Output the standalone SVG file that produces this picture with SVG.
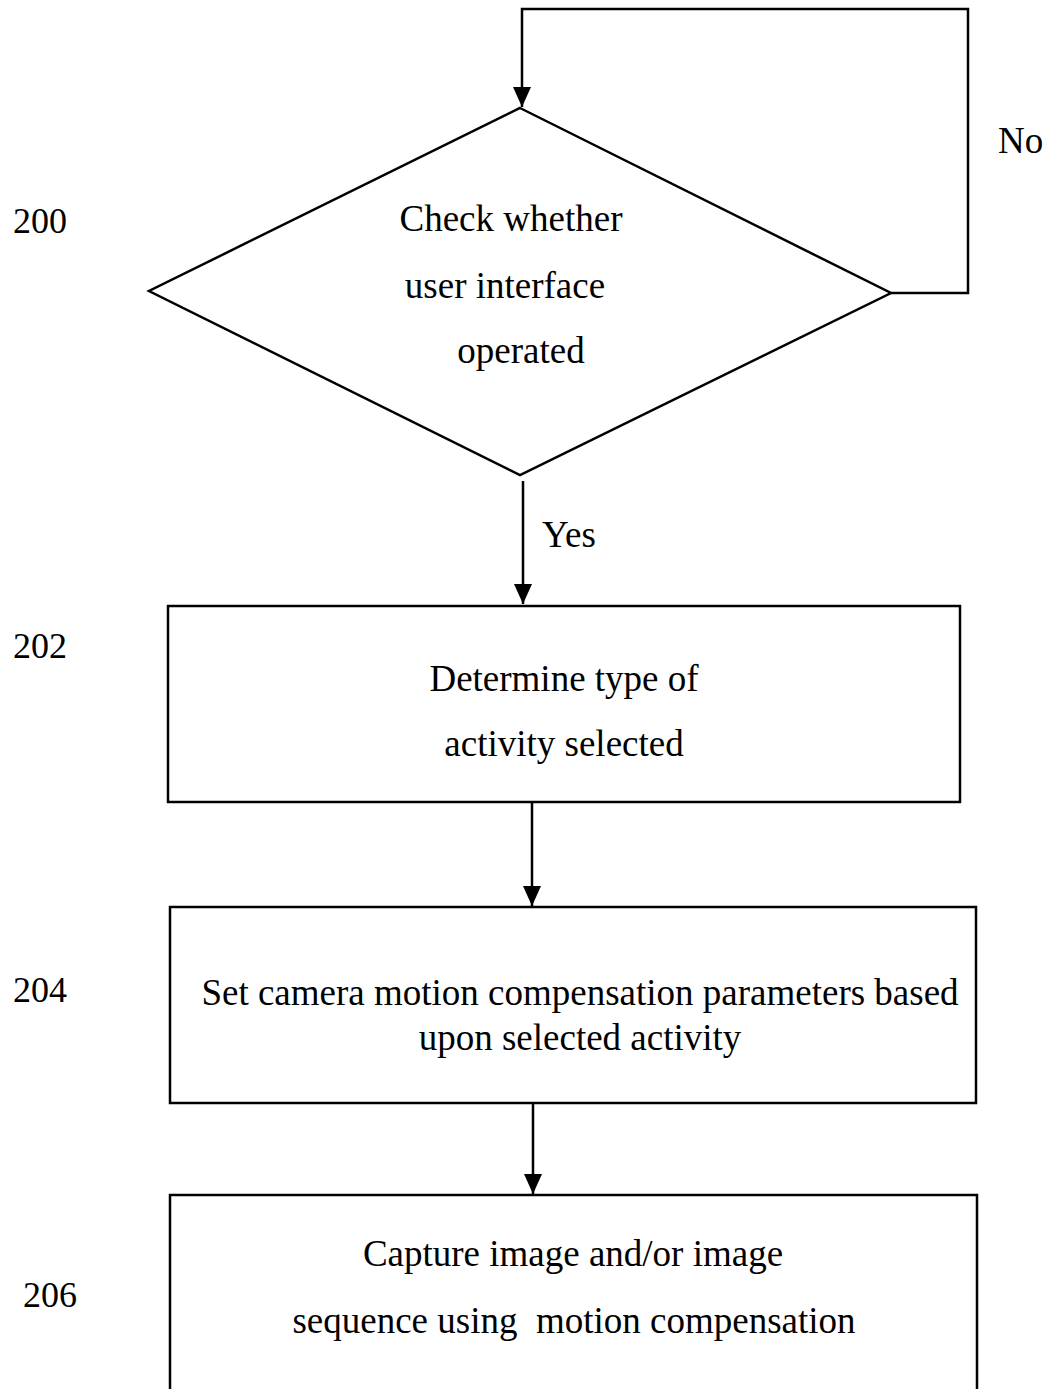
<svg xmlns="http://www.w3.org/2000/svg" width="1047" height="1389" viewBox="0 0 1047 1389">
<style>
  text { font-family: "Liberation Serif", "Times New Roman", serif; font-size: 37px; fill: #000; white-space: pre; }
  .c { text-anchor: middle; }
  .lbl { font-size: 36px; }
  .shape { fill: #fff; stroke: #000; stroke-width: 2.5; }
  .conn { fill: none; stroke: #000; stroke-width: 2.5; }
</style>
<defs>
  <marker id="arrow" viewBox="0 0 20 18" refX="20" refY="9" markerWidth="20" markerHeight="18" markerUnits="userSpaceOnUse" orient="auto">
    <path d="M0,0 L20,9 L0,18 Z" fill="#000"/>
  </marker>
</defs>
<rect width="1047" height="1389" fill="#fff"/>

<g id="connectors">
  <polyline class="conn" points="891,293 968,293 968,9 522,9 522,107" marker-end="url(#arrow)"/>
  <line class="conn" x1="523" y1="481" x2="523" y2="604" marker-end="url(#arrow)"/>
  <line class="conn" x1="532" y1="802" x2="532" y2="906" marker-end="url(#arrow)"/>
  <line class="conn" x1="533" y1="1103" x2="533" y2="1194" marker-end="url(#arrow)"/>
  <text x="998" y="153">No</text>
  <text x="542" y="547">Yes</text>
</g>

<g id="node200">
  <polygon class="shape" points="520,108 891,293 520,475 149,291"/>
  <text class="c" x="511" y="231">Check whether</text>
  <text class="c" x="505" y="298">user interface</text>
  <text class="c" x="521" y="363">operated</text>
  <text class="lbl" x="13" y="233">200</text>
</g>

<g id="node202">
  <rect class="shape" x="168" y="606" width="792" height="196"/>
  <text class="c" x="564" y="691">Determine type of</text>
  <text class="c" x="564" y="756">activity selected</text>
  <text class="lbl" x="13" y="658">202</text>
</g>

<g id="node204">
  <rect class="shape" x="170" y="907" width="806" height="196"/>
  <text class="c" x="580" y="1005">Set camera motion compensation parameters based</text>
  <text class="c" x="580" y="1050">upon selected activity</text>
  <text class="lbl" x="13" y="1002">204</text>
</g>

<g id="node206">
  <rect class="shape" x="170" y="1195" width="807" height="220"/>
  <text class="c" x="573" y="1266">Capture image and/or image</text>
  <text class="c" x="574" y="1333">sequence using  motion compensation</text>
  <text class="lbl" x="23" y="1307">206</text>
</g>
</svg>
